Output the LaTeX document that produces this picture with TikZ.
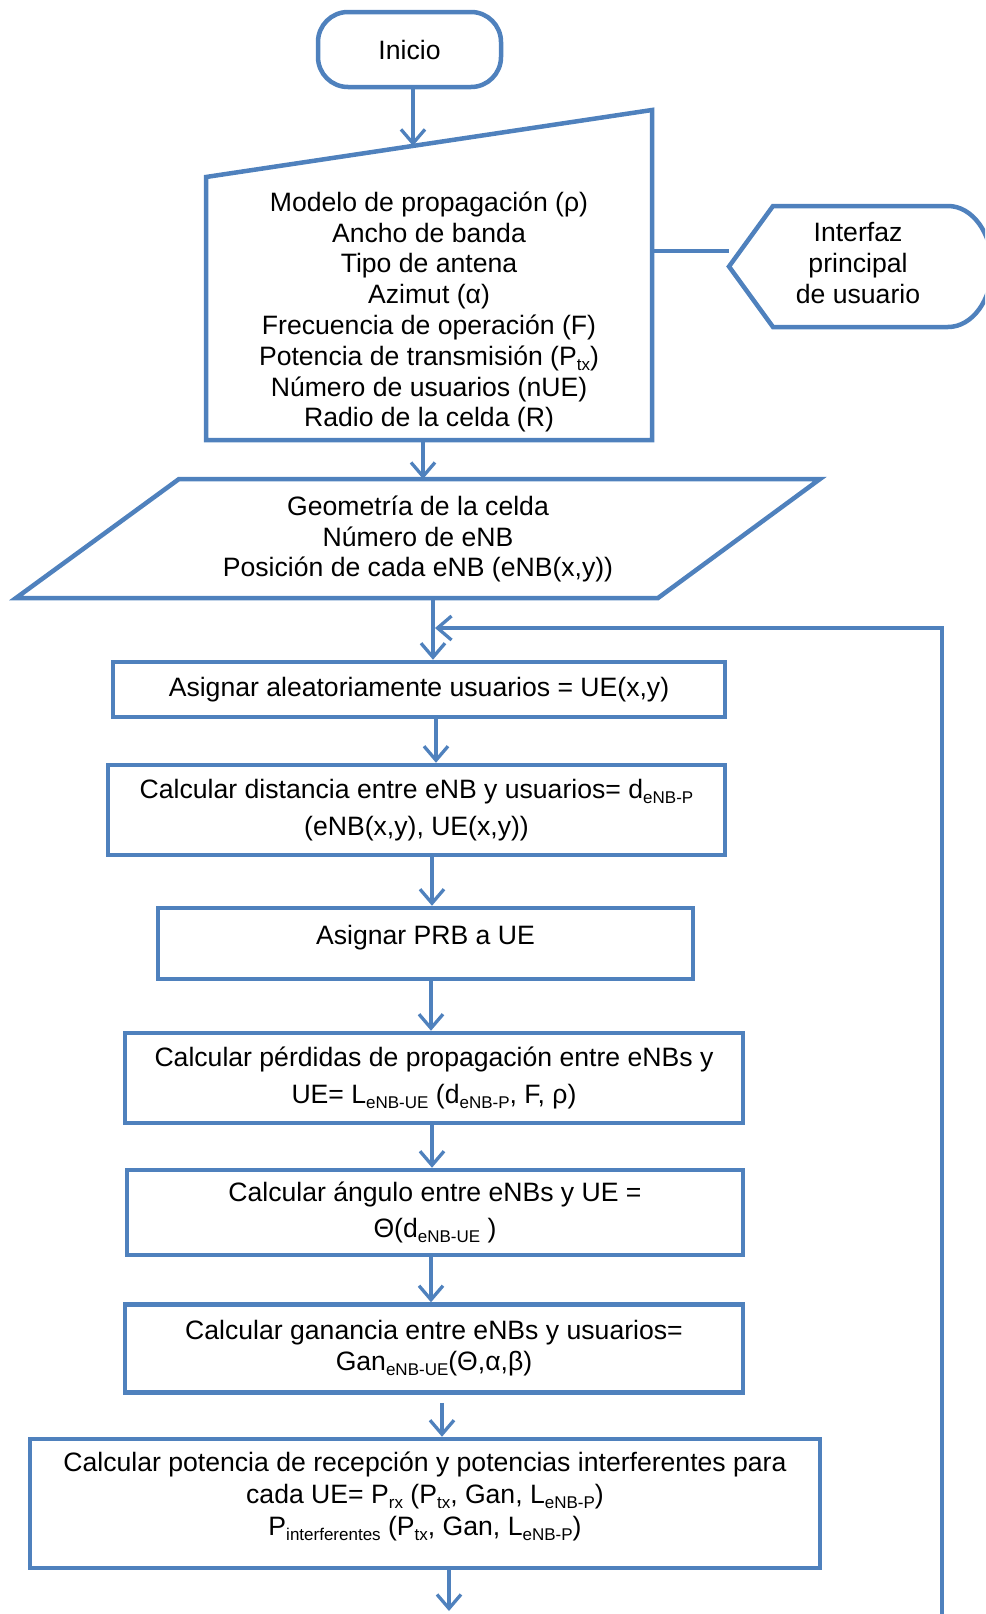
\documentclass[tikz,border=0pt]{standalone}
\usepackage{fontspec}
\setmainfont{Liberation Sans}
\usetikzlibrary{arrows.meta}
\definecolor{flowblue}{RGB}{79,129,189}
% smaller, lowered subscripts for the variable names
\newcommand\sbs[1]{\raisebox{-5pt}{\fontsize{17pt}{17pt}\selectfont #1}}

\begin{document}
\begin{tikzpicture}[
  x=1pt, y=-1pt,
  font=\fontsize{26.6pt}{30.8pt}\selectfont,
  outline/.style={draw=flowblue, line width=4.5pt, line join=miter},
  stepbox/.style={outline, rectangle, align=center, inner sep=0pt},
  txt/.style={align=center, inner sep=0pt},
  link/.style={draw=flowblue, line width=3.3pt},
  arr/.style={link, -{Straight Barb[length=14pt,width=24pt]}},
]
\clip (0,0) rectangle (985,1614);

% start terminator
\node[stepbox, rounded corners=30pt, minimum width=183pt, minimum height=75pt] (start) at (409.5,49.5) {Inicio};

% manual input of the parameters
\coordinate (inTL) at (206,177);
\coordinate (inTR) at (652,110);
\coordinate (inBR) at (652,440);
\coordinate (inBL) at (206,440);
\draw[outline] (inTL) -- (inTR) -- (inBR) -- (inBL) -- cycle;
\path (inTL) -- (inTR) coordinate[pos=0.4641] (inTop);
\node[txt] (inp) at (429,312) {Modelo de propagación (ρ)\\Ancho de banda\\Tipo de antena\\Azimut (α)\\Frecuencia de operación (F)\\Potencia de transmisión (P\sbs{tx})\\Número de usuarios (nUE)\\Radio de la celda (R)};

% display: user interface
\coordinate (uiJoin) at (729,251);
\draw[outline] (729,266.5) -- (773,206) -- (948,206)
  arc[start angle=90, end angle=-90, x radius=44pt, y radius=60.5pt]
  -- (773,327) -- cycle;
\node[txt] (ui) at (858,263) {Interfaz\\principal\\de usuario};

% data: cell geometry
\coordinate (pTL) at (179,479);
\coordinate (pTR) at (820,479);
\coordinate (pBR) at (658,598);
\coordinate (pBL) at (16,598);
\draw[outline] (pTL) -- (pTR) -- (pBR) -- (pBL) -- cycle;
\node[txt] (geo) at (418,539) {Geometría de la celda\\Número de eNB\\Posición de cada eNB (eNB(x,y))};

% process steps
\node[stepbox, minimum width=612pt, minimum height=55pt] (b1) at (419,689.5)
  {Asignar aleatoriamente usuarios = UE(x,y)};
\node[stepbox, minimum width=617pt, minimum height=90pt] (b2) at (416.5,810)
  {Calcular distancia entre eNB y usuarios= d\sbs{eNB-P}\\[6pt](eNB(x,y), UE(x,y))};
\node[stepbox, minimum width=535pt, minimum height=71pt] (b3) at (425.5,943.5)
  {\raisebox{6pt}[\height][\depth]{Asignar PRB a UE}};
\node[stepbox, minimum width=618pt, minimum height=90pt] (b4) at (434,1078)
  {Calcular pérdidas de propagación entre eNBs y\\[6pt]UE= L\sbs{eNB-UE} (d\sbs{eNB-P}, F, ρ)};
\node[stepbox, minimum width=616pt, minimum height=85pt] (b5) at (435,1212.5)
  {Calcular ángulo entre eNBs y UE =\\[5pt]Θ(d\sbs{eNB-UE} )};
\node[stepbox, minimum width=618pt, minimum height=88pt] (b6) at (434,1348.5)
  {Calcular ganancia entre eNBs y usuarios=\\Gan\sbs{eNB-UE}(Θ,α,β)};
\node[stepbox, minimum width=790pt, minimum height=129pt] (b7) at (425,1503.5)
  {\raisebox{6pt}[\height][\depth]{\begin{tabular}{@{}c@{}}Calcular potencia de recepción y potencias interferentes para\\[1pt]cada UE= P\sbs{rx} (P\sbs{tx}, Gan, L\sbs{eNB-P})\\[1pt]P\sbs{interferentes} (P\sbs{tx}, Gan, L\sbs{eNB-P})\end{tabular}}};

% connectors
\coordinate (merge) at (435,628);
\coordinate (loopBot) at (942,1620);
\coordinate (outEnd) at (449,1611);

\draw[arr] (start.south -| inTop) -- (inTop);
\draw[link] (inTR |- uiJoin) -- (uiJoin);
\draw[arr] (inBL -| 423,0) -- (pTL -| 423,0);
\draw[arr] (pBL -| 433,0) -- (b1.north -| 433,0);
\draw[arr] (loopBot) |- (merge);
\draw[arr] (b1.south -| 436,0) -- (b2.north -| 436,0);
\draw[arr] (b2.south -| 432,0) -- (b3.north -| 432,0);
\draw[arr] (b3.south -| 431,0) -- (b4.north -| 431,0);
\draw[arr] (b4.south -| 432,0) -- (b5.north -| 432,0);
\draw[arr] (b5.south -| 431,0) -- (b6.north -| 431,0);
\draw[arr, shorten <=8pt] (b6.south -| 442,0) -- (b7.north -| 442,0);
\draw[arr] (b7.south -| 449,0) -- (outEnd);
\end{tikzpicture}
\end{document}
